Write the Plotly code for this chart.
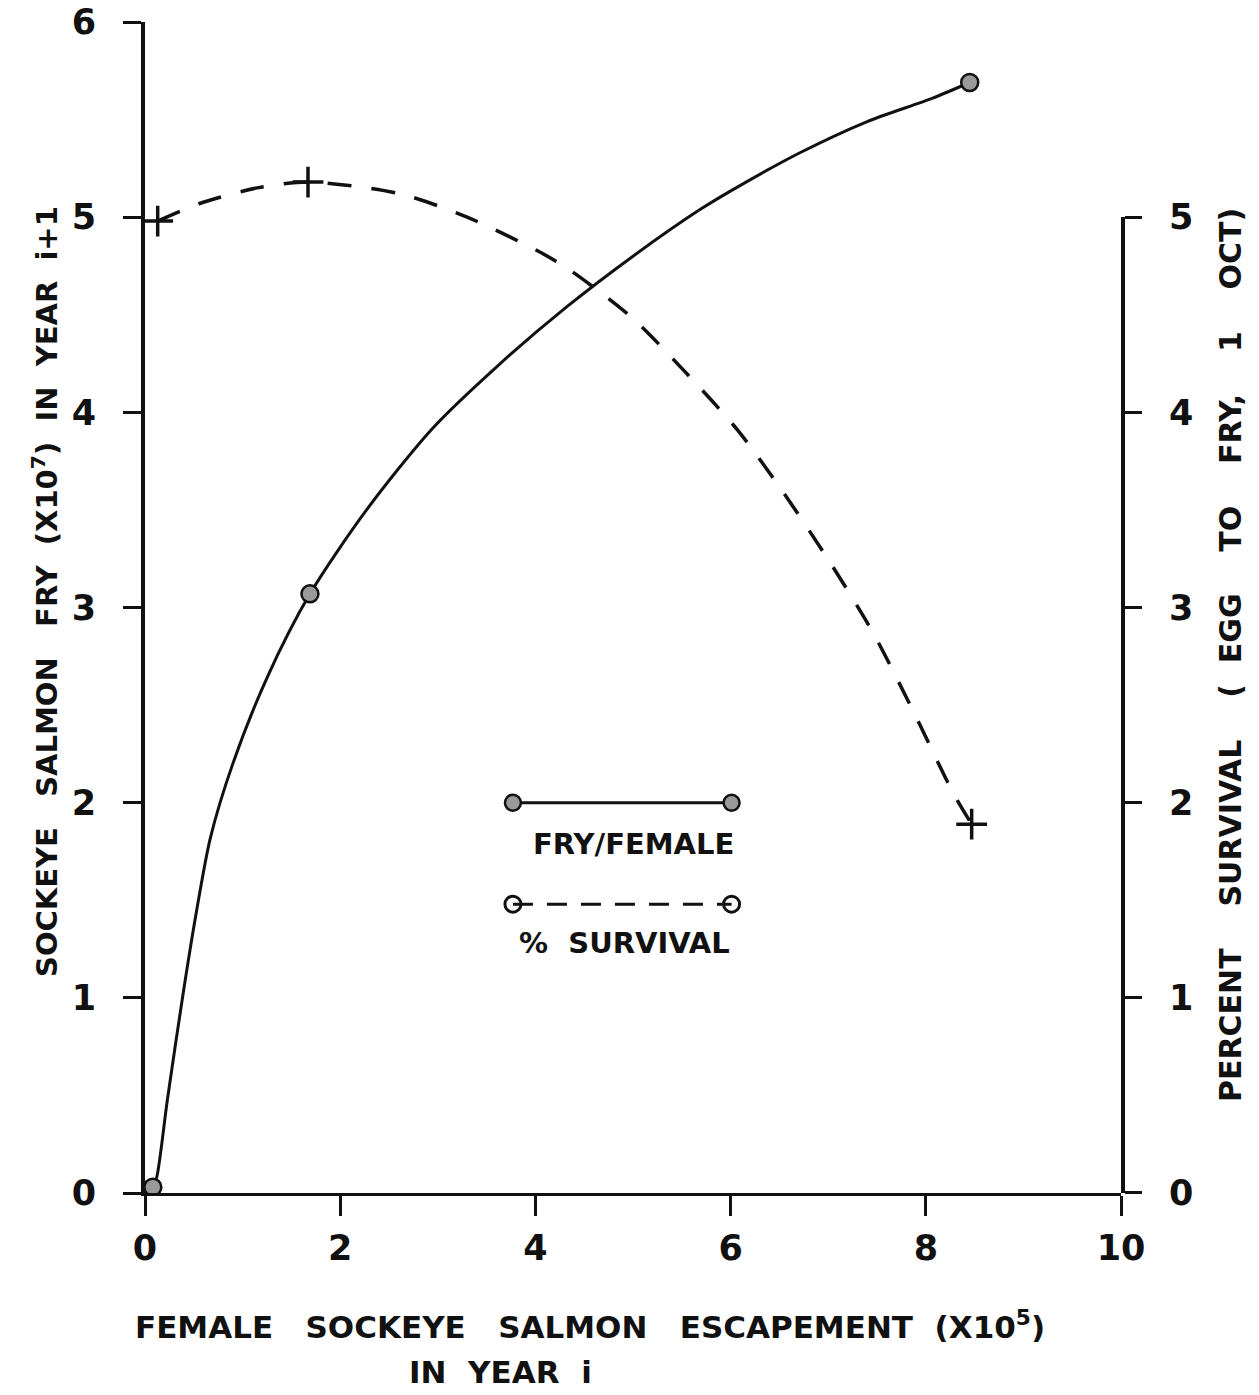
import plotly.graph_objects as go

# ---- data ----
# Fry/female curve (x = female escapement x1e5, y = fry x1e7)
fry_curve_x = [0.08, 0.12, 0.23, 0.39, 0.53, 0.67, 0.90, 1.25, 1.69, 2.27, 2.95, 3.64,
               4.32, 5.00, 5.69, 6.02, 6.71, 7.40, 8.07, 8.45]
fry_curve_y = [0.03, 0.08, 0.48, 1.02, 1.45, 1.82, 2.20, 2.64, 3.07, 3.50, 3.92, 4.25,
               4.54, 4.80, 5.04, 5.14, 5.33, 5.49, 5.61, 5.69]
fry_points_x = [0.08, 1.69, 8.45]
fry_points_y = [0.03, 3.07, 5.69]

# Percent survival curve (right axis, same scale)
surv_curve_x = [0.13, 0.56, 1.15, 1.67, 2.61, 3.30, 4.05, 4.35, 5.00, 5.51, 6.07, 6.54,
                7.02, 7.46, 7.87, 8.28, 8.47]
surv_curve_y = [4.98, 5.07, 5.15, 5.18, 5.12, 5.00, 4.82, 4.73, 4.48, 4.22, 3.91, 3.59,
                3.23, 2.87, 2.47, 2.05, 1.89]
surv_points_x = [0.13, 1.67, 8.47]
surv_points_y = [4.98, 5.18, 1.89]

# in-plot key
key_x = [3.77, 6.01]
key_fry_y = [2.0, 2.0]
key_surv_y = [1.48, 1.48]

x_ticks = [0, 2, 4, 6, 8, 10]
y_left_ticks = [0, 1, 2, 3, 4, 5, 6]
y_right_ticks = [0, 1, 2, 3, 4, 5]

# ---- layout geometry ----
OFF = 8  # page body margin
W, H = 1251, 1387
ML, MR, MT, MB = 137, 138, 14, 202
PW = W - ML - MR
PH = H - MT - MB
FONT = "DejaVu Sans"
INK = "#111111"


def px2paper(px, py):
    return (px - OFF - ML) / PW, (H - MB - (py - OFF)) / PH


fig = go.Figure()

# fry/female curve
fig.add_trace(go.Scatter(x=fry_curve_x, y=fry_curve_y, mode="lines",
                         line=dict(color=INK, width=3, shape="spline", smoothing=0.8),
                         showlegend=False, hoverinfo="skip"))
fig.add_trace(go.Scatter(x=fry_points_x, y=fry_points_y, mode="markers",
                         marker=dict(symbol="circle", size=17, color="#9a9a9a",
                                     line=dict(color=INK, width=2.5)),
                         showlegend=False))
# survival curve
fig.add_trace(go.Scatter(x=surv_curve_x, y=surv_curve_y, mode="lines",
                         line=dict(color=INK, width=3.5, dash="24px,20px",
                                   shape="spline", smoothing=0.8),
                         showlegend=False, hoverinfo="skip"))
fig.add_trace(go.Scatter(x=surv_points_x, y=surv_points_y, mode="markers",
                         marker=dict(symbol="cross-thin", size=22,
                                     line=dict(color=INK, width=3.5)),
                         showlegend=False))
# key
fig.add_trace(go.Scatter(x=key_x, y=key_fry_y, mode="lines+markers",
                         line=dict(color=INK, width=3),
                         marker=dict(symbol="circle", size=16, color="#9a9a9a",
                                     line=dict(color=INK, width=2.5)),
                         showlegend=False))
fig.add_trace(go.Scatter(x=key_x, y=key_surv_y, mode="lines+markers",
                         line=dict(color=INK, width=3, dash="20px,14px"),
                         marker=dict(symbol="circle-open", size=16,
                                     line=dict(color=INK, width=3)),
                         showlegend=False))
# empty trace to create right axis subplot
fig.add_trace(go.Scatter(x=[], y=[], xaxis="x", yaxis="y2", showlegend=False))

tickfont = dict(family=FONT, size=35, color=INK, weight="bold")

fig.update_layout(
    width=W, height=H,
    margin=dict(l=ML, r=MR, t=MT, b=MB, autoexpand=False),
    paper_bgcolor="white",
    plot_bgcolor="rgba(0,0,0,0)",
    showlegend=False,
    xaxis=dict(range=[0, 10], tickvals=x_ticks, ticktext=[str(v) for v in x_ticks],
               showgrid=False, zeroline=False, showline=True, linewidth=3, linecolor=INK,
               ticks="outside", ticklen=20, tickwidth=3, tickcolor=INK, automargin=False,
               tickfont=tickfont, ticklabelstandoff=2, anchor="y",
               ticklabeloverflow="allow"),
    yaxis=dict(range=[0, 6], domain=[0, 1], tickvals=y_left_ticks,
               ticktext=[str(v) for v in y_left_ticks], automargin=False,
               showgrid=False, zeroline=False, showline=True, linewidth=4, linecolor=INK,
               ticks="outside", ticklen=18, tickwidth=3, tickcolor=INK,
               tickfont=tickfont, ticklabelstandoff=20, anchor="x",
               ticklabeloverflow="allow"),
    yaxis2=dict(range=[0, 5], domain=[0, 5 / 6], tickvals=y_right_ticks,
                ticktext=[str(v) for v in y_right_ticks], side="right", anchor="x",
                showgrid=False, zeroline=False, showline=True, linewidth=4, linecolor=INK,
                ticks="outside", ticklen=17, tickwidth=3, tickcolor=INK, automargin=False,
                tickfont=tickfont, ticklabelstandoff=20, ticklabeloverflow="allow"),
)

annots = []
sidefont = dict(family=FONT, size=29, color=INK, weight="bold")
rightfont = dict(family=FONT, size=30, color=INK, weight="bold")
botfont = dict(family=FONT, size=31, color=INK, weight="bold")
keyfont = dict(family=FONT, size=29, color=INK, weight="bold")

ax, ay = px2paper(45, 592)
annots.append(dict(text="SOCKEYE   SALMON   FRY  (X10<sup>7</sup>)  IN  YEAR  i+1",
                   xref="paper", yref="paper", x=ax, y=ay, textangle=-90,
                   showarrow=False, font=sidefont, xanchor="center", yanchor="middle"))
ax, ay = px2paper(1230, 655)
annots.append(dict(text="PERCENT    SURVIVAL    (  EGG    TO    FRY,    1    OCT)",
                   xref="paper", yref="paper", x=ax, y=ay, textangle=-90,
                   showarrow=False, font=rightfont, xanchor="center", yanchor="middle"))
ax, ay = px2paper(590, 1325)
annots.append(dict(text="FEMALE   SOCKEYE   SALMON   ESCAPEMENT  (X10<sup>5</sup>)",
                   xref="paper", yref="paper", x=ax, y=ay,
                   showarrow=False, font=botfont, xanchor="center", yanchor="middle"))
ax, ay = px2paper(500, 1372)
annots.append(dict(text="IN  YEAR  i",
                   xref="paper", yref="paper", x=ax, y=ay,
                   showarrow=False, font=botfont, xanchor="center", yanchor="middle"))
# key labels
annots.append(dict(text="FRY/FEMALE", x=5.0, y=1.79, xref="x", yref="y",
                   showarrow=False, font=keyfont))
annots.append(dict(text="%  SURVIVAL", x=4.91, y=1.28, xref="x", yref="y",
                   showarrow=False, font=keyfont))

fig.update_layout(annotations=annots)

fig.write_html("out.html")
